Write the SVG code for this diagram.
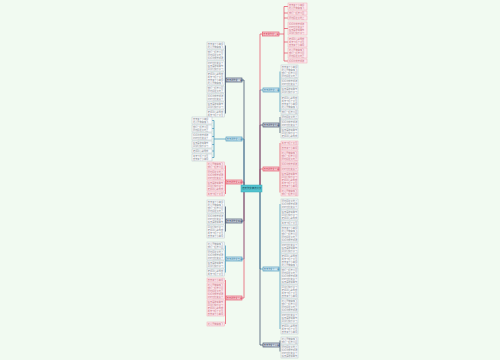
<svg xmlns="http://www.w3.org/2000/svg" width="500" height="360" viewBox="0 0 500 360">
<style>
.lf{fill:#fbfcfc;stroke:#b9c3cc;stroke-width:.5}
.lr{fill:#fde9ed;stroke:#f2a9b6;stroke-width:.5}
text{font-family:"Noto Sans CJK SC","Noto Sans",sans-serif;font-size:2.2px}
.tl{fill:#80868e}
.tr{fill:#c7707f}
.c{fill:none;stroke-width:.7}
.red{stroke:#e5485e}.blue{stroke:#3a8fb7}.dark{stroke:#2e3f5e}
.nr{fill:#f8cfd6;stroke:#e5485e;stroke-width:.6}
.nb{fill:#d3e9f3;stroke:#3a8fb7;stroke-width:.6}
.nd{fill:#d7dde7;stroke:#2e3f5e;stroke-width:.6}
.ntr{fill:#d03048}.ntb{fill:#2a7aa0}.ntd{fill:#24334f}
</style>
<rect width="500" height="360" fill="#f1faf1"/>
<g id="connectors">
<path class="c red" d="M244,185V182H242"/>
<path class="c blue" d="M244,185V139H242"/>
<path class="c dark" d="M244,185V80H242"/>
<path class="c dark" d="M244,191V221H242"/>
<path class="c blue" d="M244,191V259H242"/>
<path class="c red" d="M244,191V298H242"/>
<path class="c red" d="M260,185V169H263"/>
<path class="c dark" d="M260,185V125H263"/>
<path class="c blue" d="M260,185V90H263"/>
<path class="c red" d="M260,185V34H263"/>
<path class="c blue" d="M260,191V269H263"/>
<path class="c dark" d="M260,191V345H263"/>
<path class="c dark" d="M225.5,45.5V113.5"/>
<path class="c blue" d="M226,139H214M212,120.5H214V157.5H212M212,128.5H214M212,136.5H214M212,144.5H214M212,151H214"/>
<path class="c red" d="M225.5,165.5V194"/>
<path class="c dark" d="M225.5,206.5V231.5"/>
<path class="c blue" d="M225.5,245.5V272.5"/>
<path class="c red" d="M225.5,280V324"/>
<path class="c red" d="M279,34H284M288,6.5H284V61H288M284,13H288M284,18H288M284,28.5H288M284,42H288M284,53H288"/>
<path class="c blue" d="M280,71.5V112"/>
<path class="c dark" d="M280,117V133"/>
<path class="c red" d="M280,143V192.5"/>
<path class="c blue" d="M280,204V329"/>
<path class="c dark" d="M280,340.5V351.5"/>
</g>
<g id="center"><rect x="241" y="185" width="21" height="7" fill="#52c3cf" stroke="#3aa9b6" stroke-width=".5"/><text x="242.2" y="189.3" style="font-size:2.4px" fill="#1d4a55">春天作文精选范文</text></g>
<g id="L1"><rect class="nd" x="226" y="78" width="16" height="4"/><text class="ntd" x="226.8" y="80.8">春天的作文一篇</text></g>
<g id="L2"><rect class="nb" x="226" y="137" width="16" height="4"/><text class="ntb" x="226.8" y="139.8">春天的作文二篇</text></g>
<g id="L3"><rect class="nr" x="226" y="180" width="16" height="4"/><text class="ntr" x="226.8" y="182.8">春天的作文三篇</text></g>
<g id="L4"><rect class="nd" x="226" y="219" width="16" height="4"/><text class="ntd" x="226.8" y="221.8">春天的作文四篇</text></g>
<g id="L5"><rect class="nb" x="226" y="257" width="16" height="4"/><text class="ntb" x="226.8" y="259.8">春天的作文五篇</text></g>
<g id="L6"><rect class="nr" x="226" y="296" width="16" height="4"/><text class="ntr" x="226.8" y="298.8">春天的作文六篇</text></g>
<g id="R1"><rect class="nr" x="262.5" y="32" width="16.5" height="4"/><text class="ntr" x="263.3" y="34.8">春天的作文七篇</text></g>
<g id="R2"><rect class="nb" x="263" y="88" width="16" height="4"/><text class="ntb" x="263.8" y="90.8">春天的作文八篇</text></g>
<g id="R3"><rect class="nd" x="263" y="123" width="16" height="4"/><text class="ntd" x="263.8" y="125.8">春天的作文九篇</text></g>
<g id="R4"><rect class="nr" x="263" y="167" width="16" height="4"/><text class="ntr" x="263.8" y="169.8">春天的作文十篇</text></g>
<g id="R5"><rect class="nb" x="263" y="267" width="16" height="4"/><text class="ntb" x="263.8" y="269.8">春天作文十一篇</text></g>
<g id="R6"><rect class="nd" x="263" y="343" width="16.5" height="4"/><text class="ntd" x="263.8" y="345.8">春天作文十二篇</text></g>
<g id="r1a"><rect class="lr" x="288" y="3" width="19" height="7"/><text class="tr" x="289" y="5.6">春天来了小草绿<tspan x="289" dy="3">花儿开放蝴蝶飞</tspan></text></g>
<g id="r1b"><rect class="lr" x="288" y="11" width="19" height="4"/><text class="tr" x="289" y="13.6">我们一起去公园</text></g>
<g id="r1c"><rect class="lr" x="288" y="16" width="19" height="4"/><text class="tr" x="289" y="18.6">阳光照在大地上</text></g>
<g id="r1d"><rect class="lr" x="288" y="22" width="19" height="13"/><text class="tr" x="289" y="24.6">妈妈带我去郊游<tspan x="289" dy="3">树叶慢慢变黄了</tspan><tspan x="289" dy="3">秋天是收获季节</tspan><tspan x="289" dy="3">同学们快乐学习</tspan></text></g>
<g id="r1e"><rect class="lr" x="288" y="37" width="19" height="10"/><text class="tr" x="289" y="39.6">老师耐心教导我<tspan x="289" dy="3">冬天下起了大雪</tspan><tspan x="289" dy="3">春天来了小草绿</tspan></text></g>
<g id="r1f"><rect class="lr" x="288" y="48" width="19" height="10"/><text class="tr" x="289" y="50.6">花儿开放蝴蝶飞<tspan x="289" dy="3">我们一起去公园</tspan><tspan x="289" dy="3">阳光照在大地上</tspan></text></g>
<g id="r1g"><rect class="lr" x="288" y="59" width="19" height="4"/><text class="tr" x="289" y="61.6">妈妈带我去郊游</text></g>
<g id="r2a"><rect class="lf" x="281" y="65" width="17" height="13"/><text class="tl" x="281.8" y="67.6">春天来了小草绿<tspan x="281.8" dy="3">花儿开放蝴蝶飞</tspan><tspan x="281.8" dy="3">我们一起去公园</tspan><tspan x="281.8" dy="3">阳光照在大地上</tspan></text></g>
<g id="r2b"><rect class="lf" x="281" y="79" width="17" height="7"/><text class="tl" x="281.8" y="81.6">妈妈带我去郊游<tspan x="281.8" dy="3">树叶慢慢变黄了</tspan></text></g>
<g id="r2c"><rect class="lf" x="281" y="87" width="17" height="7"/><text class="tl" x="281.8" y="89.6">秋天是收获季节<tspan x="281.8" dy="3">同学们快乐学习</tspan></text></g>
<g id="r2d"><rect class="lf" x="281" y="96" width="17" height="13"/><text class="tl" x="281.8" y="98.6">老师耐心教导我<tspan x="281.8" dy="3">冬天下起了大雪</tspan><tspan x="281.8" dy="3">春天来了小草绿</tspan><tspan x="281.8" dy="3">花儿开放蝴蝶飞</tspan></text></g>
<g id="r2e"><rect class="lf" x="281" y="110" width="17" height="4"/><text class="tl" x="281.8" y="112.6">我们一起去公园</text></g>
<g id="r3a"><rect class="lf" x="281" y="115" width="17" height="4"/><text class="tl" x="281.8" y="117.6">阳光照在大地上</text></g>
<g id="r3b"><rect class="lf" x="281" y="120" width="17" height="7"/><text class="tl" x="281.8" y="122.6">妈妈带我去郊游<tspan x="281.8" dy="3">树叶慢慢变黄了</tspan></text></g>
<g id="r3c"><rect class="lf" x="281" y="128" width="17" height="10"/><text class="tl" x="281.8" y="130.6">秋天是收获季节<tspan x="281.8" dy="3">同学们快乐学习</tspan><tspan x="281.8" dy="3">老师耐心教导我</tspan></text></g>
<g id="r4a"><rect class="lr" x="281" y="141" width="17" height="4"/><text class="tr" x="281.8" y="143.6">冬天下起了大雪</text></g>
<g id="r4b"><rect class="lr" x="281" y="146" width="17" height="4"/><text class="tr" x="281.8" y="148.6">春天来了小草绿</text></g>
<g id="r4c"><rect class="lr" x="281" y="151" width="17" height="10"/><text class="tr" x="281.8" y="153.6">花儿开放蝴蝶飞<tspan x="281.8" dy="3">我们一起去公园</tspan><tspan x="281.8" dy="3">阳光照在大地上</tspan></text></g>
<g id="r4d"><rect class="lr" x="281" y="162" width="17" height="4"/><text class="tr" x="281.8" y="164.6">妈妈带我去郊游</text></g>
<g id="r4e"><rect class="lr" x="281" y="167" width="17" height="4"/><text class="tr" x="281.8" y="169.6">树叶慢慢变黄了</text></g>
<g id="r4f"><rect class="lr" x="281" y="172" width="17" height="16"/><text class="tr" x="281.8" y="174.6">秋天是收获季节<tspan x="281.8" dy="3">同学们快乐学习</tspan><tspan x="281.8" dy="3">老师耐心教导我</tspan><tspan x="281.8" dy="3">冬天下起了大雪</tspan><tspan x="281.8" dy="3">春天来了小草绿</tspan></text></g>
<g id="r4g"><rect class="lr" x="281" y="189" width="17" height="7"/><text class="tr" x="281.8" y="191.6">花儿开放蝴蝶飞<tspan x="281.8" dy="3">我们一起去公园</tspan></text></g>
<g id="r5a"><rect class="lf" x="281" y="199" width="17" height="10"/><text class="tl" x="281.8" y="201.6">阳光照在大地上<tspan x="281.8" dy="3">妈妈带我去郊游</tspan><tspan x="281.8" dy="3">树叶慢慢变黄了</tspan></text></g>
<g id="r5b"><rect class="lf" x="281" y="210" width="17" height="10"/><text class="tl" x="281.8" y="212.6">秋天是收获季节<tspan x="281.8" dy="3">同学们快乐学习</tspan><tspan x="281.8" dy="3">老师耐心教导我</tspan></text></g>
<g id="r5c"><rect class="lf" x="281" y="221" width="17" height="4"/><text class="tl" x="281.8" y="223.6">冬天下起了大雪</text></g>
<g id="r5d"><rect class="lf" x="281" y="226" width="17" height="16"/><text class="tl" x="281.8" y="228.6">春天来了小草绿<tspan x="281.8" dy="3">花儿开放蝴蝶飞</tspan><tspan x="281.8" dy="3">我们一起去公园</tspan><tspan x="281.8" dy="3">阳光照在大地上</tspan><tspan x="281.8" dy="3">妈妈带我去郊游</tspan></text></g>
<g id="r5e"><rect class="lf" x="281" y="243" width="17" height="10"/><text class="tl" x="281.8" y="245.6">树叶慢慢变黄了<tspan x="281.8" dy="3">秋天是收获季节</tspan><tspan x="281.8" dy="3">同学们快乐学习</tspan></text></g>
<g id="r5f"><rect class="lf" x="281" y="254" width="17" height="13"/><text class="tl" x="281.8" y="256.6">老师耐心教导我<tspan x="281.8" dy="3">冬天下起了大雪</tspan><tspan x="281.8" dy="3">春天来了小草绿</tspan><tspan x="281.8" dy="3">花儿开放蝴蝶飞</tspan></text></g>
<g id="r5g"><rect class="lf" x="281" y="268" width="17" height="16"/><text class="tl" x="281.8" y="270.6">我们一起去公园<tspan x="281.8" dy="3">阳光照在大地上</tspan><tspan x="281.8" dy="3">妈妈带我去郊游</tspan><tspan x="281.8" dy="3">树叶慢慢变黄了</tspan><tspan x="281.8" dy="3">秋天是收获季节</tspan></text></g>
<g id="r5h"><rect class="lf" x="281" y="285" width="17" height="13"/><text class="tl" x="281.8" y="287.6">同学们快乐学习<tspan x="281.8" dy="3">老师耐心教导我</tspan><tspan x="281.8" dy="3">冬天下起了大雪</tspan><tspan x="281.8" dy="3">春天来了小草绿</tspan></text></g>
<g id="r5i"><rect class="lf" x="281" y="299" width="17" height="13"/><text class="tl" x="281.8" y="301.6">花儿开放蝴蝶飞<tspan x="281.8" dy="3">我们一起去公园</tspan><tspan x="281.8" dy="3">阳光照在大地上</tspan><tspan x="281.8" dy="3">妈妈带我去郊游</tspan></text></g>
<g id="r5j"><rect class="lf" x="281" y="313" width="17" height="10"/><text class="tl" x="281.8" y="315.6">树叶慢慢变黄了<tspan x="281.8" dy="3">秋天是收获季节</tspan><tspan x="281.8" dy="3">同学们快乐学习</tspan></text></g>
<g id="r5k"><rect class="lf" x="281" y="324" width="17" height="10"/><text class="tl" x="281.8" y="326.6">老师耐心教导我<tspan x="281.8" dy="3">冬天下起了大雪</tspan><tspan x="281.8" dy="3">春天来了小草绿</tspan></text></g>
<g id="r6a"><rect class="lf" x="281" y="337" width="17" height="7"/><text class="tl" x="281.8" y="339.6">花儿开放蝴蝶飞<tspan x="281.8" dy="3">我们一起去公园</tspan></text></g>
<g id="r6b"><rect class="lf" x="281" y="345" width="17" height="13"/><text class="tl" x="281.8" y="347.6">阳光照在大地上<tspan x="281.8" dy="3">妈妈带我去郊游</tspan><tspan x="281.8" dy="3">树叶慢慢变黄了</tspan><tspan x="281.8" dy="3">秋天是收获季节</tspan></text></g>
<g id="l1a"><rect class="lf" x="207" y="42" width="17.5" height="7"/><text class="tl" x="207.8" y="44.6">春天来了小草绿<tspan x="207.8" dy="3">花儿开放蝴蝶飞</tspan></text></g>
<g id="l1b"><rect class="lf" x="207" y="50" width="17.5" height="10"/><text class="tl" x="207.8" y="52.6">我们一起去公园<tspan x="207.8" dy="3">阳光照在大地上</tspan><tspan x="207.8" dy="3">妈妈带我去郊游</tspan></text></g>
<g id="l1c"><rect class="lf" x="207" y="61" width="17.5" height="10"/><text class="tl" x="207.8" y="63.6">树叶慢慢变黄了<tspan x="207.8" dy="3">秋天是收获季节</tspan><tspan x="207.8" dy="3">同学们快乐学习</tspan></text></g>
<g id="l1d"><rect class="lf" x="207" y="72" width="17.5" height="13"/><text class="tl" x="207.8" y="74.6">老师耐心教导我<tspan x="207.8" dy="3">冬天下起了大雪</tspan><tspan x="207.8" dy="3">春天来了小草绿</tspan><tspan x="207.8" dy="3">花儿开放蝴蝶飞</tspan></text></g>
<g id="l1e"><rect class="lf" x="207" y="86" width="17.5" height="7"/><text class="tl" x="207.8" y="88.6">我们一起去公园<tspan x="207.8" dy="3">阳光照在大地上</tspan></text></g>
<g id="l1f"><rect class="lf" x="207" y="94" width="17.5" height="7"/><text class="tl" x="207.8" y="96.6">妈妈带我去郊游<tspan x="207.8" dy="3">树叶慢慢变黄了</tspan></text></g>
<g id="l1g"><rect class="lf" x="207" y="102" width="17.5" height="7"/><text class="tl" x="207.8" y="104.6">秋天是收获季节<tspan x="207.8" dy="3">同学们快乐学习</tspan></text></g>
<g id="l1h"><rect class="lf" x="207" y="110" width="17.5" height="7"/><text class="tl" x="207.8" y="112.6">老师耐心教导我<tspan x="207.8" dy="3">冬天下起了大雪</tspan></text></g>
<g id="l2a"><rect class="lf" x="192" y="117" width="20" height="7"/><text class="tl" x="193" y="119.6">春天来了小草绿<tspan x="193" dy="3">花儿开放蝴蝶飞</tspan></text></g>
<g id="l2b"><rect class="lf" x="192" y="125" width="20" height="7"/><text class="tl" x="193" y="127.6">我们一起去公园<tspan x="193" dy="3">阳光照在大地上</tspan></text></g>
<g id="l2c"><rect class="lf" x="192" y="133" width="20" height="7"/><text class="tl" x="193" y="135.6">妈妈带我去郊游<tspan x="193" dy="3">树叶慢慢变黄了</tspan></text></g>
<g id="l2d"><rect class="lf" x="192" y="141" width="20" height="7"/><text class="tl" x="193" y="143.6">秋天是收获季节<tspan x="193" dy="3">同学们快乐学习</tspan></text></g>
<g id="l2e"><rect class="lf" x="192" y="149" width="20" height="4"/><text class="tl" x="193" y="151.6">老师耐心教导我</text></g>
<g id="l2f"><rect class="lf" x="192" y="154" width="20" height="7"/><text class="tl" x="193" y="156.6">冬天下起了大雪<tspan x="193" dy="3">春天来了小草绿</tspan></text></g>
<g id="l3a"><rect class="lr" x="207" y="162" width="17.5" height="7"/><text class="tr" x="207.8" y="164.6">花儿开放蝴蝶飞<tspan x="207.8" dy="3">我们一起去公园</tspan></text></g>
<g id="l3b"><rect class="lr" x="207" y="170" width="17.5" height="10"/><text class="tr" x="207.8" y="172.6">阳光照在大地上<tspan x="207.8" dy="3">妈妈带我去郊游</tspan><tspan x="207.8" dy="3">树叶慢慢变黄了</tspan></text></g>
<g id="l3c"><rect class="lr" x="207" y="181" width="17.5" height="10"/><text class="tr" x="207.8" y="183.6">秋天是收获季节<tspan x="207.8" dy="3">同学们快乐学习</tspan><tspan x="207.8" dy="3">老师耐心教导我</tspan></text></g>
<g id="l3d"><rect class="lr" x="207" y="192" width="17.5" height="4"/><text class="tr" x="207.8" y="194.6">冬天下起了大雪</text></g>
<g id="l4a"><rect class="lf" x="207" y="200" width="17.5" height="13"/><text class="tl" x="207.8" y="202.6">春天来了小草绿<tspan x="207.8" dy="3">花儿开放蝴蝶飞</tspan><tspan x="207.8" dy="3">我们一起去公园</tspan><tspan x="207.8" dy="3">阳光照在大地上</tspan></text></g>
<g id="l4b"><rect class="lf" x="207" y="214" width="17.5" height="10"/><text class="tl" x="207.8" y="216.6">妈妈带我去郊游<tspan x="207.8" dy="3">树叶慢慢变黄了</tspan><tspan x="207.8" dy="3">秋天是收获季节</tspan></text></g>
<g id="l4c"><rect class="lf" x="207" y="225" width="17.5" height="13"/><text class="tl" x="207.8" y="227.6">同学们快乐学习<tspan x="207.8" dy="3">老师耐心教导我</tspan><tspan x="207.8" dy="3">冬天下起了大雪</tspan><tspan x="207.8" dy="3">春天来了小草绿</tspan></text></g>
<g id="l5a"><rect class="lf" x="207" y="242" width="17.5" height="7"/><text class="tl" x="207.8" y="244.6">花儿开放蝴蝶飞<tspan x="207.8" dy="3">我们一起去公园</tspan></text></g>
<g id="l5b"><rect class="lf" x="207" y="250" width="17.5" height="10"/><text class="tl" x="207.8" y="252.6">阳光照在大地上<tspan x="207.8" dy="3">妈妈带我去郊游</tspan><tspan x="207.8" dy="3">树叶慢慢变黄了</tspan></text></g>
<g id="l5c"><rect class="lf" x="207" y="261" width="17.5" height="7"/><text class="tl" x="207.8" y="263.6">秋天是收获季节<tspan x="207.8" dy="3">同学们快乐学习</tspan></text></g>
<g id="l5d"><rect class="lf" x="207" y="269" width="17.5" height="7"/><text class="tl" x="207.8" y="271.6">老师耐心教导我<tspan x="207.8" dy="3">冬天下起了大雪</tspan></text></g>
<g id="l6a"><rect class="lr" x="207" y="278" width="17.5" height="4"/><text class="tr" x="207.8" y="280.6">春天来了小草绿</text></g>
<g id="l6b"><rect class="lr" x="207" y="283" width="17.5" height="16"/><text class="tr" x="207.8" y="285.6">花儿开放蝴蝶飞<tspan x="207.8" dy="3">我们一起去公园</tspan><tspan x="207.8" dy="3">阳光照在大地上</tspan><tspan x="207.8" dy="3">妈妈带我去郊游</tspan><tspan x="207.8" dy="3">树叶慢慢变黄了</tspan></text></g>
<g id="l6c"><rect class="lr" x="207" y="300" width="17.5" height="16"/><text class="tr" x="207.8" y="302.6">秋天是收获季节<tspan x="207.8" dy="3">同学们快乐学习</tspan><tspan x="207.8" dy="3">老师耐心教导我</tspan><tspan x="207.8" dy="3">冬天下起了大雪</tspan><tspan x="207.8" dy="3">春天来了小草绿</tspan></text></g>
<g id="l6d"><rect class="lr" x="207" y="322" width="17.5" height="4"/><text class="tr" x="207.8" y="324.6">花儿开放蝴蝶飞</text></g>
</svg>
